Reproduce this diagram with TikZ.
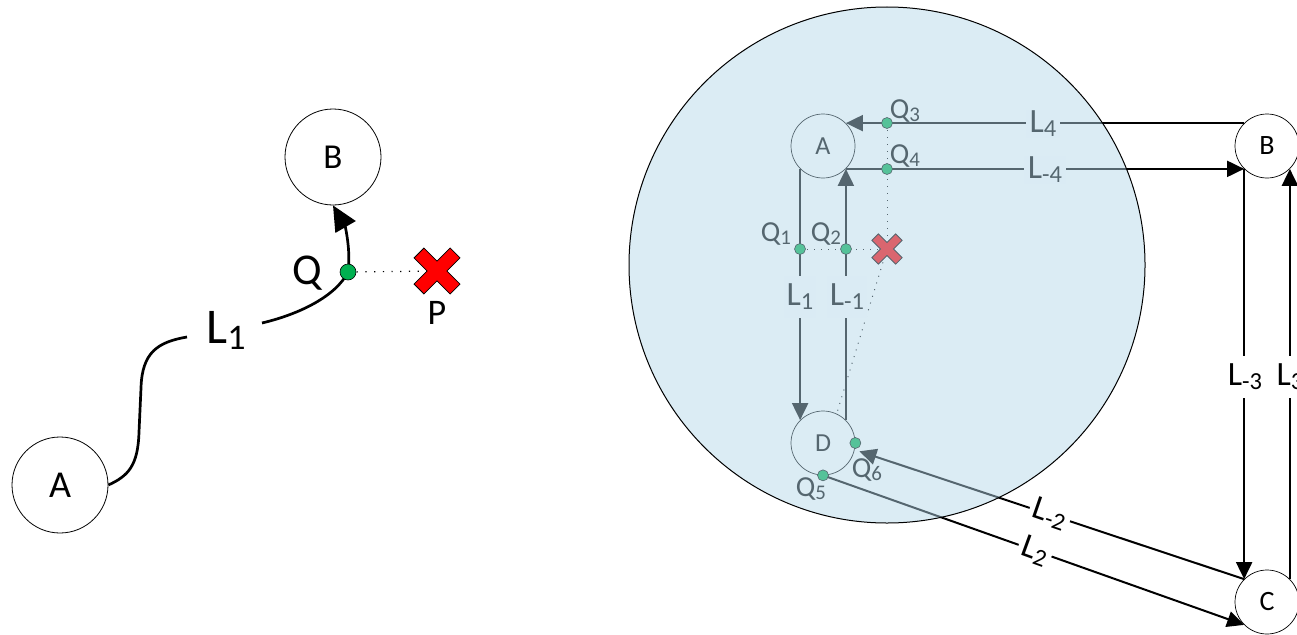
\documentclass[tikz,border=0pt]{standalone}
\usepackage{fontspec}
\usepackage{graphicx}
\setmainfont{Carlito}
\usetikzlibrary{arrows.meta}
\definecolor{qgreen}{RGB}{0,176,80}
\definecolor{zonefill}{RGB}{179,215,233}
\newcommand\sbs[1]{\raisebox{-0.12em}{\scalebox{0.72}{#1}}}
\begin{document}
\begin{tikzpicture}[x=1pt,y=-1pt,
  bigc/.style={circle,draw,line width=0.8pt,minimum size=96pt,inner sep=0pt},
  smc/.style={circle,draw,line width=0.7pt,minimum size=64pt,inner sep=0pt},
  lcurve/.style={line width=2.7pt},
  larr/.style={-{Triangle[length=25pt,width=23pt]}},
  conn/.style={line width=2pt},
  arr/.style={-{Triangle[length=17pt,width=16pt]}},
  ldot/.style={line width=1.2pt,dash pattern=on 1.2pt off 7.5pt},
  rdot/.style={line width=1pt,dash pattern=on 1pt off 6pt},
  gdot/.style={circle,fill=qgreen,draw,line width=0.6pt,inner sep=0pt,minimum size=11pt},
  gdotbig/.style={circle,fill=qgreen,draw,line width=0.6pt,inner sep=0pt,minimum size=16pt},
  lab/.style={font=\fontsize{34}{38}\selectfont},
  qlab/.style={font=\fontsize{29}{33}\selectfont},
  onl/.style={fill=white,inner xsep=3pt,inner ysep=8pt},
  onls/.style={fill=white,inner xsep=4pt,inner ysep=1pt},
  xmark/.pic={\draw[fill=red,line width=0.8pt,rotate=45]
     (7,25.5)--(7,7)--(25.5,7)--(25.5,-7)--(7,-7)--(7,-25.5)--(-7,-25.5)--(-7,-7)
     --(-25.5,-7)--(-25.5,7)--(-7,7)--(-7,25.5)--cycle;}
]
\useasboundingbox (0,0) rectangle (1297,634);

% ---------------- left diagram ----------------
\node[bigc,font=\fontsize{38}{42}\selectfont] (lA) at (60,485) {A};
\node[bigc,font=\fontsize{35}{40}\selectfont] (lB) at (333,157) {B};
\coordinate (c1) at (187,337);
\coordinate (c2) at (262,323);
\node[font=\fontsize{50}{54}\selectfont] (lL1) at (226,330) {L\sbs{1}};
\coordinate (P) at (437,271);
\coordinate (lQpos) at (348,272);
\draw[lcurve] (lA.east) .. controls (128,476) and (138,466) .. (139,432)
   -- (141,388) .. controls (142,352) and (158,342) .. (c1);
\draw[lcurve] (c2) .. controls (300,314) and (336,296) .. (lQpos);
\draw[lcurve,larr] (lQpos) .. controls (351,250) and (345,226) .. (lB.south);
\draw[ldot] (lQpos) -- (P);
\node[gdotbig] (lQ) at (lQpos) {};
\pic at (P) {xmark};
\node[font=\fontsize{44}{48}\selectfont] (lQlab) at (307,273) {Q};
\node[font=\fontsize{36}{40}\selectfont] (lP) at (437,313) {P};

% ---------------- right diagram ----------------
\node[smc,font=\fontsize{26}{30}\selectfont] (A) at (823,146) {A};
\node[smc,font=\fontsize{26}{30}\selectfont] (D) at (823,443) {D};
\node[smc,font=\fontsize{28}{32}\selectfont] (B) at (1267,146) {B};
\node[smc,font=\fontsize{28}{32}\selectfont] (C) at (1267,602) {C};
\coordinate (X) at (887,249);
\coordinate (q1) at (800,249);
\coordinate (q2) at (846,249);
\coordinate (q3) at (887,123);
\coordinate (q4) at (887,169);

\draw[conn,arr] (B.135) -- (A.45);
\draw[conn,arr] (A.-45) -- (B.-135);
\draw[conn,arr] (A.-135) -- (D.135);
\draw[conn,arr] (D.45) -- (A.-45);
\draw[conn,arr] (B.-135) -- (C.135);
\draw[conn,arr] (C.45) -- (B.-45);
\draw[conn,arr,shorten >=5pt] (C.135) -- (D.-12);
\draw[conn,arr] (D.-90) -- (C.-135);

\draw[rdot] (q1) -- (X);
\draw[rdot] (q3) -- (X);
\draw[rdot] (X) -- (D.65);
\node[gdot] (Q1) at (q1) {};
\node[gdot] (Q2) at (q2) {};
\node[gdot] (Q3) at (q3) {};
\node[gdot] (Q4) at (q4) {};
\node[gdot] (Q5) at (D.-90) {};
\node[gdot] (Q6) at (D.0) {};
\pic[scale=0.66] at (X) {xmark};

\node[qlab] (tQ1) at (776,234) {Q\sbs{1}};
\node[qlab] (tQ2) at (826,234) {Q\sbs{2}};
\node[qlab] (tQ3) at (905,111) {Q\sbs{3}};
\node[qlab] (tQ4) at (905,156) {Q\sbs{4}};
\node[qlab] (tQ5) at (811,489) {Q\sbs{5}};
\node[qlab] (tQ6) at (867,470) {Q\sbs{6}};

\node[lab,onl] (tL1) at (800,297) {L\sbs{1}};
\node[lab,onl] (tLm1) at (847,297) {L\sbs{-1}};
\node[lab,onls] (tL4) at (1043,124) {L\sbs{4}};
\node[lab,onls] (tLm4) at (1045,170) {L\sbs{-4}};

% translucent zone
\node[circle,minimum size=516pt,inner sep=0pt,draw=black,line width=1pt,
      fill=zonefill,fill opacity=0.48] (zone) at (887,265) {};

\node[lab,onl] (tLm3) at (1245,377) {L\sbs{-3}};
\node[lab,onl] (tL3) at (1290,377) {L\sbs{3}};
\node[lab,onls,rotate=-19] (tLm2) at (1050,514) {L\sbs{-2}};
\node[lab,onls,rotate=-20] (tL2) at (1035,551) {L\sbs{2}};
\end{tikzpicture}
\end{document}
